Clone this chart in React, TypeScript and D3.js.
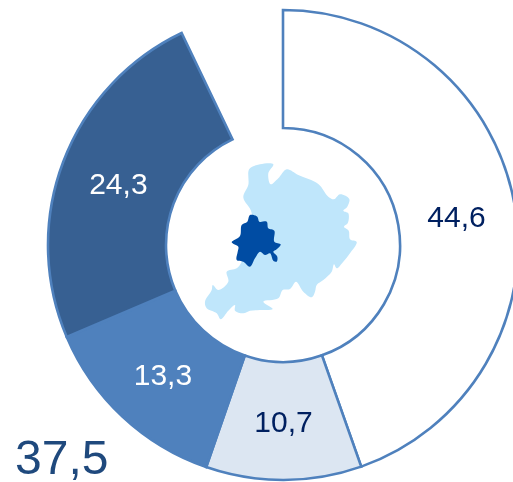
import React from "react";
import * as d3 from "d3";

const categories = ["a", "b", "c", "d"];
const values = [44.6, 10.7, 13.3, 24.3];
const labels = ["44,6", "10,7", "13,3", "24,3"];
const fills = ["#ffffff", "#dce6f2", "#4f81bd", "#376092"];
const textColors = ["#002060", "#002060", "#ffffff", "#ffffff"];
const totalLabel = "37,5";

const regionOutline: [number, number][] = [
  [249.3,169],[260,164.3],[273.3,164.3],[268.3,173.3],[270.7,184.3],[278.3,178.3],[286.7,169.3],[298.3,175],[318.3,184],[328.3,196.7],[334,199.3],[340,194.3],[349.3,199],[347.3,206.7],[343.3,210.7],[348.3,213.3],[347.7,223.3],[344,226.7],[348.7,230.7],[350,239.3],[356.7,242],[350,253.3],[343.3,261.7],[336.7,268.3],[334,264.3],[331.7,271.7],[323.3,280],[316.7,285],[315,291.7],[311.7,297.3],[303.3,291.7],[296,281.7],[290,289],[282.7,290],[278.3,298.3],[263.3,301.7],[272.7,309],[260,310],[250,310.7],[243.3,313.3],[235,310.7],[235,305],[228.3,310.7],[220.7,319.3],[216.7,313.3],[206.7,308.3],[205,301.7],[211.7,290],[212.7,285],[218.3,290],[228.3,281.7],[226.7,271.7],[236.7,268.3],[241.7,261.7],[245,240],[251.7,213.3],[243.3,197.3],[248.3,185],
];
const cityOutline: [number, number][] = [
  [250,215],[257.3,216.7],[259.3,221.7],[266.7,221.7],[268.3,228.3],[274.3,230.7],[274.3,241.7],[280.7,244.3],[276.7,249.3],[273.3,251.7],[277.3,256.7],[276.7,261.7],[273.3,260.7],[270,253.3],[265,255],[260,251.7],[255,258.3],[250,266.7],[243.3,261.7],[236.7,260],[237.7,251.7],[238.3,246.7],[231.7,242.3],[240,236],[241.7,225],[247.3,221.7],
];

const angle = d3.scaleLinear().domain([0, 100]).range([0, 2 * Math.PI]);
const cx = 283, cy = 245, outer = 235, inner = 117;
const arcGen = d3.arc();
const mapLine = d3.line<[number, number]>().curve(d3.curveCatmullRomClosed.alpha(0.5));
const font = "'Liberation Sans', Arial, sans-serif";

export default function App() {
  let acc = 0;
  const slices = values.map((v, i) => {
    const startAngle = angle(acc);
    acc += v;
    const endAngle = angle(acc);
    const spec = { innerRadius: inner, outerRadius: outer, startAngle, endAngle };
    return { key: categories[i], i, d: arcGen(spec) as string, c: arcGen.centroid(spec) };
  });
  return (
    <svg width={513} height={482} style={{ position: "fixed", left: 0, top: 0 }}>
      <g transform={`translate(${cx},${cy})`}>
        {slices.map(s => (
          <path key={s.key} d={s.d} fill={fills[s.i]} stroke="#4f81bd" strokeWidth={2.6} strokeLinejoin="miter" />
        ))}
      </g>
      <path d={mapLine(regionOutline) as string} fill="#bfe6fb" />
      <path d={mapLine(cityOutline) as string} fill="#004ca3" />
      <g transform={`translate(${cx},${cy + 1})`} fontFamily={font} fontSize={30} textAnchor="middle">
        {slices.map(s => (
          <text key={s.key} x={s.c[0]} y={s.c[1]} dy="0.35em" fill={textColors[s.i]}>{labels[s.i]}</text>
        ))}
      </g>
      <text x={15} y={474} fontFamily={font} fontSize={48} fill="#1f497d">{totalLabel}</text>
    </svg>
  );
}
